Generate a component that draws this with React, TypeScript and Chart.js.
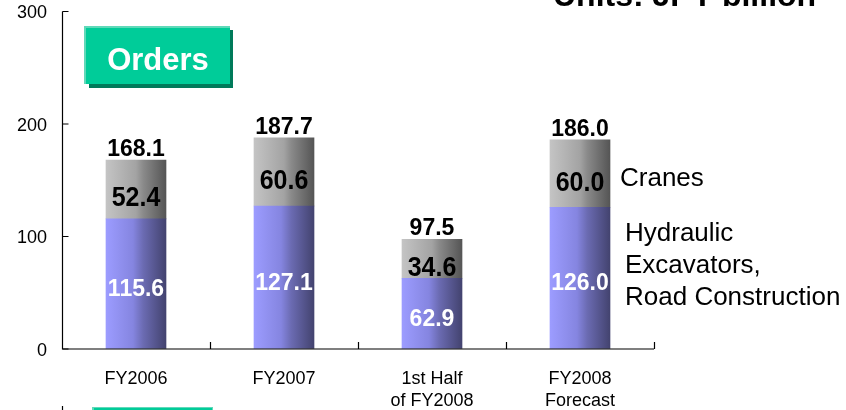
import React, { useEffect, useRef } from 'react';
import { Chart, registerables } from 'chart.js';

Chart.register(...registerables);

// ---- data ----
const categories: (string | string[])[] = ['FY2006', 'FY2007', ['1st Half', 'of FY2008'], ['FY2008', 'Forecast']];
const excavators = [115.6, 127.1, 62.9, 126.0];
const cranes = [52.4, 60.6, 34.6, 60.0];
const totals = [168.1, 187.7, 97.5, 186.0];
const yTickValues = [0, 100, 200, 300];
const seriesNames = ['Hydraulic Excavators, Road Construction', 'Cranes'];
const cranesLabel = 'Cranes';
const excavatorLabelLines = ['Hydraulic', 'Excavators,', 'Road Construction'];
const panelTitle = 'Orders';
const unitsText = 'Units: JPY billion';

const FONT = "'Liberation Sans', Arial, Helvetica, sans-serif";

const blueStops: [number, string][] = [
  [0, '#9c9cff'],
  [0.45, '#8585e0'],
  [0.62, '#6b6bb2'],
  [1, '#43436f'],
];
const grayStops: [number, string][] = [
  [0, '#c4c4c4'],
  [0.5, '#a3a3a3'],
  [0.62, '#8a8a8a'],
  [1, '#555555'],
];

const gradientPlugin = {
  id: 'barGradients',
  beforeDatasetsDraw(chart: any) {
    const ctx = chart.ctx;
    chart.data.datasets.forEach((_ds: any, di: number) => {
      const meta = chart.getDatasetMeta(di);
      meta.data.forEach((el: any) => {
        const x = el.x;
        const w = el.width;
        const g = ctx.createLinearGradient(x - w / 2, 0, x + w / 2, 0);
        (di === 0 ? blueStops : grayStops).forEach(([o, c]) => g.addColorStop(o, c));
        el.options = { ...el.options, backgroundColor: g };
      });
    });
  },
};

function stretchedText(ctx: any, text: string, x: number, baseline: number, sy: number) {
  ctx.save();
  ctx.translate(x, baseline);
  ctx.scale(1, sy);
  ctx.fillText(text, 0, 0);
  ctx.restore();
}

const decorPlugin = {
  id: 'decor',
  afterDraw(chart: any) {
    const ctx = chart.ctx;
    const ys = chart.scales.y;
    const xs = chart.scales.x;
    const area = chart.chartArea;
    const m0 = chart.getDatasetMeta(0);
    ctx.save();

    // axes
    ctx.strokeStyle = '#000';
    ctx.lineWidth = 1.2;
    const y0 = ys.getPixelForValue(0);
    const yTop = ys.getPixelForValue(yTickValues[yTickValues.length - 1]);
    const ax = Math.round(area.left) + 0.5;
    ctx.beginPath();
    ctx.moveTo(ax, yTop);
    ctx.lineTo(ax, y0);
    ctx.lineTo(xs.getPixelForValue(categories.length - 0.5), y0);
    ctx.stroke();
    ctx.beginPath();
    yTickValues.forEach((v) => {
      const py = ys.getPixelForValue(v);
      ctx.moveTo(ax, py);
      ctx.lineTo(ax + 6, py);
    });
    for (let i = 1; i <= categories.length; i++) {
      const px = Math.round(xs.getPixelForValue(i - 0.5)) + 0.5;
      ctx.moveTo(px, y0);
      ctx.lineTo(px, y0 - 7);
    }
    ctx.stroke();

    // value labels
    ctx.textAlign = 'center';
    ctx.textBaseline = 'alphabetic';
    for (let i = 0; i < categories.length; i++) {
      const el = m0.data[i];
      const x = el.x;
      const yb = ys.getPixelForValue(0);
      const y1 = ys.getPixelForValue(excavators[i]);
      const y2 = ys.getPixelForValue(excavators[i] + cranes[i]);
      ctx.font = `bold 23px ${FONT}`;
      ctx.fillStyle = '#ffffff';
      ctx.fillText(excavators[i].toFixed(1), x, (yb + y1) / 2 + 12);
      ctx.font = `bold 25px ${FONT}`;
      ctx.fillStyle = '#000000';
      stretchedText(ctx, cranes[i].toFixed(1), x, (y1 + y2) / 2 + 17, 1.14);
      ctx.font = `bold 23px ${FONT}`;
      ctx.fillText(totals[i].toFixed(1), x, ys.getPixelForValue(totals[i]) - 4);
    }

    // right-side series labels
    const last = m0.data[categories.length - 1];
    const li = categories.length - 1;
    const rx = last.x + last.width / 2;
    const ly1 = ys.getPixelForValue(excavators[li]);
    const ly2 = ys.getPixelForValue(excavators[li] + cranes[li]);
    const lyb = ys.getPixelForValue(0);
    ctx.textAlign = 'left';
    ctx.font = `26px ${FONT}`;
    ctx.fillStyle = '#000';
    ctx.fillText(cranesLabel, rx + 10, (ly1 + ly2) / 2 + 12);
    const ec = (lyb + ly1) / 2;
    excavatorLabelLines.forEach((t, k) => {
      ctx.fillText(t, rx + 15, ec - 37 + k * 32);
    });

    // units text (cropped at the top)
    ctx.font = `bold 32px ${FONT}`;
    ctx.fillText(unitsText, 553, 6);

    // "Orders" panel
    ctx.fillStyle = '#007a5a';
    ctx.fillRect(89, 30, 144, 58);
    ctx.fillStyle = '#60d9b9';
    ctx.fillRect(84, 26, 146, 58);
    ctx.fillStyle = '#00cc99';
    ctx.fillRect(86, 28, 144, 56);
    ctx.fillStyle = '#ffffff';
    ctx.font = `bold 31px ${FONT}`;
    ctx.textAlign = 'center';
    ctx.fillText(panelTitle, 158, 70);

    // next panel peeking in at bottom
    ctx.fillStyle = '#60d9b9';
    ctx.fillRect(92, 407, 121, 3);
    ctx.fillStyle = '#00cc99';
    ctx.fillRect(94, 408, 118, 2);
    ctx.strokeStyle = '#000';
    ctx.beginPath();
    ctx.moveTo(ax, 406);
    ctx.lineTo(ax, 410);
    ctx.stroke();

    ctx.restore();
  },
};

export default function App() {
  const ref = useRef<HTMLCanvasElement>(null);
  useEffect(() => {
    document.body.style.margin = '0';
    const canvas = ref.current;
    if (!canvas) return;
    const chart = new Chart(canvas, {
      type: 'bar',
      data: {
        labels: categories as any,
        datasets: [
          { label: seriesNames[0], data: excavators, backgroundColor: '#8585e0', borderWidth: 0 },
          { label: seriesNames[1], data: cranes, backgroundColor: '#a3a3a3', borderWidth: 0 },
        ],
      },
      options: {
        responsive: false,
        animation: false,
        devicePixelRatio: 1,
        layout: { padding: { left: 0, right: 192, top: 11.5, bottom: 0 } },
        plugins: { legend: { display: false }, tooltip: { enabled: false }, title: { display: false } },
        datasets: { bar: { barThickness: 60 } } as any,
        scales: {
          x: {
            stacked: true,
            grid: { display: true, drawOnChartArea: false, drawTicks: true, tickLength: 19, color: 'rgba(0,0,0,0)' },
            border: { display: false },
            ticks: {
              color: '#000',
              padding: 0,
              font: { family: FONT, size: 18, lineHeight: 22 / 18 },
              maxRotation: 0,
              autoSkip: false,
            },
            afterFit: (s: any) => {
              s.height = 61;
            },
          },
          y: {
            stacked: true,
            min: 0,
            max: 300,
            grid: { display: true, drawOnChartArea: false, drawTicks: true, tickLength: 15, color: 'rgba(0,0,0,0)' },
            border: { display: false },
            ticks: {
              stepSize: 100,
              color: '#000',
              padding: 0,
              labelOffset: 2,
              font: { family: FONT, size: 18 },
            },
            afterFit: (s: any) => {
              s.width = 62;
            },
          },
        },
      },
      plugins: [gradientPlugin, decorPlugin],
    });
    return () => chart.destroy();
  }, []);
  return (
    <div style={{ position: 'absolute', left: 0, top: 0, width: 846, height: 410, background: '#fff' }}>
      <canvas ref={ref} width={846} height={410} style={{ display: 'block' }} />
    </div>
  );
}
